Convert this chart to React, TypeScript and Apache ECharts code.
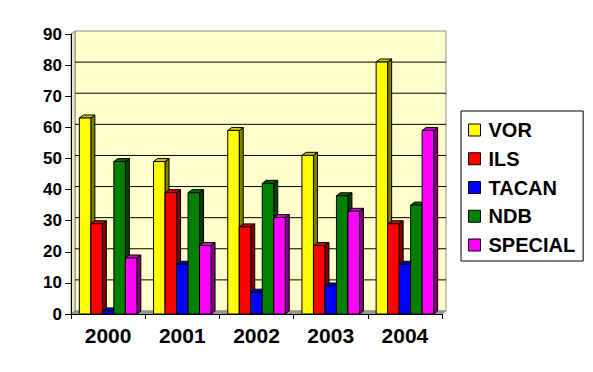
import React, { useEffect, useRef } from "react";
import * as echarts from "echarts";

const categories = ["2000", "2001", "2002", "2003", "2004"];
const seriesNames = ["VOR", "ILS", "TACAN", "NDB", "SPECIAL"];
const vor = [63, 49, 59, 51, 81];
const ils = [29, 39, 28, 22, 29];
const tacan = [1, 16, 7, 9, 16];
const ndb = [49, 39, 42, 38, 35];
const special = [18, 22, 31, 33, 59];
const seriesValues = [vor, ils, tacan, ndb, special];

const frontColors = ["#FFFF00", "#FF0000", "#0000FF", "#008000", "#FF00FF"];
const topColors = ["#CCCC00", "#CC0000", "#0000CC", "#006600", "#CC00CC"];
const sideColors = ["#808000", "#800000", "#000080", "#004000", "#800080"];

const FONT = "'Liberation Sans', Arial, sans-serif";
const DX = 4;
const DY = 3;

export default function App() {
  const ref = useRef<HTMLDivElement>(null);
  useEffect(() => {
    if (!ref.current) return;
    const chart = echarts.init(ref.current, null, { renderer: "svg" });

    const background = {
      type: "custom",
      name: "__bg",
      data: [[0, 0]],
      encode: { x: 0, y: 1 },
      silent: true,
      renderItem: (params: any, api: any) => {
        const cs = params.coordSys;
        const x0 = cs.x, y0 = cs.y, w = cs.width, h = cs.height;
        const children: any[] = [
          {
            type: "rect",
            shape: { x: x0 + DX, y: y0 - DY, width: w, height: h },
            style: { fill: "#FFFFCC", stroke: "#8C8C8C", lineWidth: 1 },
          },
          {
            type: "polygon",
            shape: { points: [[x0, y0], [x0 + DX, y0 - DY], [x0 + DX, y0 + h - DY], [x0, y0 + h]] },
            style: { fill: "#E9E9C6", stroke: "#8C8C8C", lineWidth: 1 },
          },
          {
            type: "polygon",
            shape: { points: [[x0, y0 + h], [x0 + DX, y0 + h - DY], [x0 + w + DX, y0 + h - DY], [x0 + w, y0 + h]] },
            style: { fill: "#999999", stroke: "#8C8C8C", lineWidth: 1 },
          },
        ];
        for (let v = 10; v < 90; v += 10) {
          const y = api.coord([0, v])[1] - DY;
          children.push({
            type: "line",
            shape: { x1: x0 + DX, y1: y, x2: x0 + w + DX, y2: y },
            style: { stroke: "#000000", lineWidth: 1 },
          });
        }
        return { type: "group", children };
      },
      z: 1,
    };

    const barSeries = seriesValues.map((vals, idx) => ({
      type: "custom",
      name: seriesNames[idx],
      data: vals.map((v, i) => [i, v]),
      encode: { x: 0, y: 1 },
      itemStyle: { color: frontColors[idx] },
      z: 2,
      renderItem: (params: any, api: any) => {
        const ci = api.value(0);
        const v = api.value(1);
        const [cx, yTop] = api.coord([ci, v]);
        const yBase = api.coord([ci, 0])[1];
        const cw = api.size([1, 0])[0];
        const bw = cw * 0.155;
        const x0 = cx + (idx - 2.5) * bw;
        const x1 = x0 + bw;
        return {
          type: "group",
          children: [
            {
              type: "polygon",
              shape: { points: [[x1, yBase], [x1 + DX, yBase - DY], [x1 + DX, yTop - DY], [x1, yTop]] },
              style: { fill: sideColors[idx], stroke: "#000", lineWidth: 1 },
            },
            {
              type: "polygon",
              shape: { points: [[x0, yTop], [x0 + DX, yTop - DY], [x1 + DX, yTop - DY], [x1, yTop]] },
              style: { fill: topColors[idx], stroke: "#000", lineWidth: 1 },
            },
            {
              type: "rect",
              shape: { x: x0, y: yTop, width: bw, height: yBase - yTop },
              style: { fill: frontColors[idx], stroke: "#000", lineWidth: 1 },
            },
          ],
        };
      },
    }));

    chart.setOption({
      animation: false,
      backgroundColor: "#FFFFFF",
      grid: { left: 71, top: 34, width: 371, height: 280 },
      legend: {
        data: seriesNames,
        orient: "vertical",
        left: 461,
        top: 111,
        padding: [9, 8, 6, 7],
        itemWidth: 12,
        itemHeight: 12,
        itemGap: 8.75,
        icon: "rect",
        selectedMode: false,
        backgroundColor: "#FFFFFF",
        borderColor: "#000000",
        borderWidth: 1,
        borderRadius: 0,
        itemStyle: { borderColor: "#000", borderWidth: 1 },
        textStyle: {
          fontFamily: FONT,
          fontWeight: "bold",
          fontSize: 20,
          lineHeight: 20,
          color: "#000",
          padding: [0, 0, 0, 3],
        },
      },
      xAxis: {
        type: "category",
        data: categories,
        z: 10,
        axisLine: { show: true, lineStyle: { color: "#000", width: 1 } },
        axisTick: { show: true, length: 5, lineStyle: { color: "#000" } },
        axisLabel: {
          fontFamily: FONT,
          fontWeight: "bold",
          fontSize: 21,
          color: "#000",
          margin: 11,
        },
        splitLine: { show: false },
      },
      yAxis: {
        type: "value",
        min: 0,
        max: 90,
        interval: 10,
        z: 10,
        axisLine: { show: true, lineStyle: { color: "#000", width: 1 } },
        axisTick: { show: true, length: 6, lineStyle: { color: "#000" } },
        axisLabel: {
          fontFamily: FONT,
          fontWeight: "bold",
          fontSize: 17,
          color: "#000",
          margin: 9,
        },
        splitLine: { show: false },
      },
      series: [background, ...barSeries],
    });
    return () => chart.dispose();
  }, []);
  return <div ref={ref} style={{ width: 593, height: 372, position: "absolute", left: 0, top: 0 }} />;
}
